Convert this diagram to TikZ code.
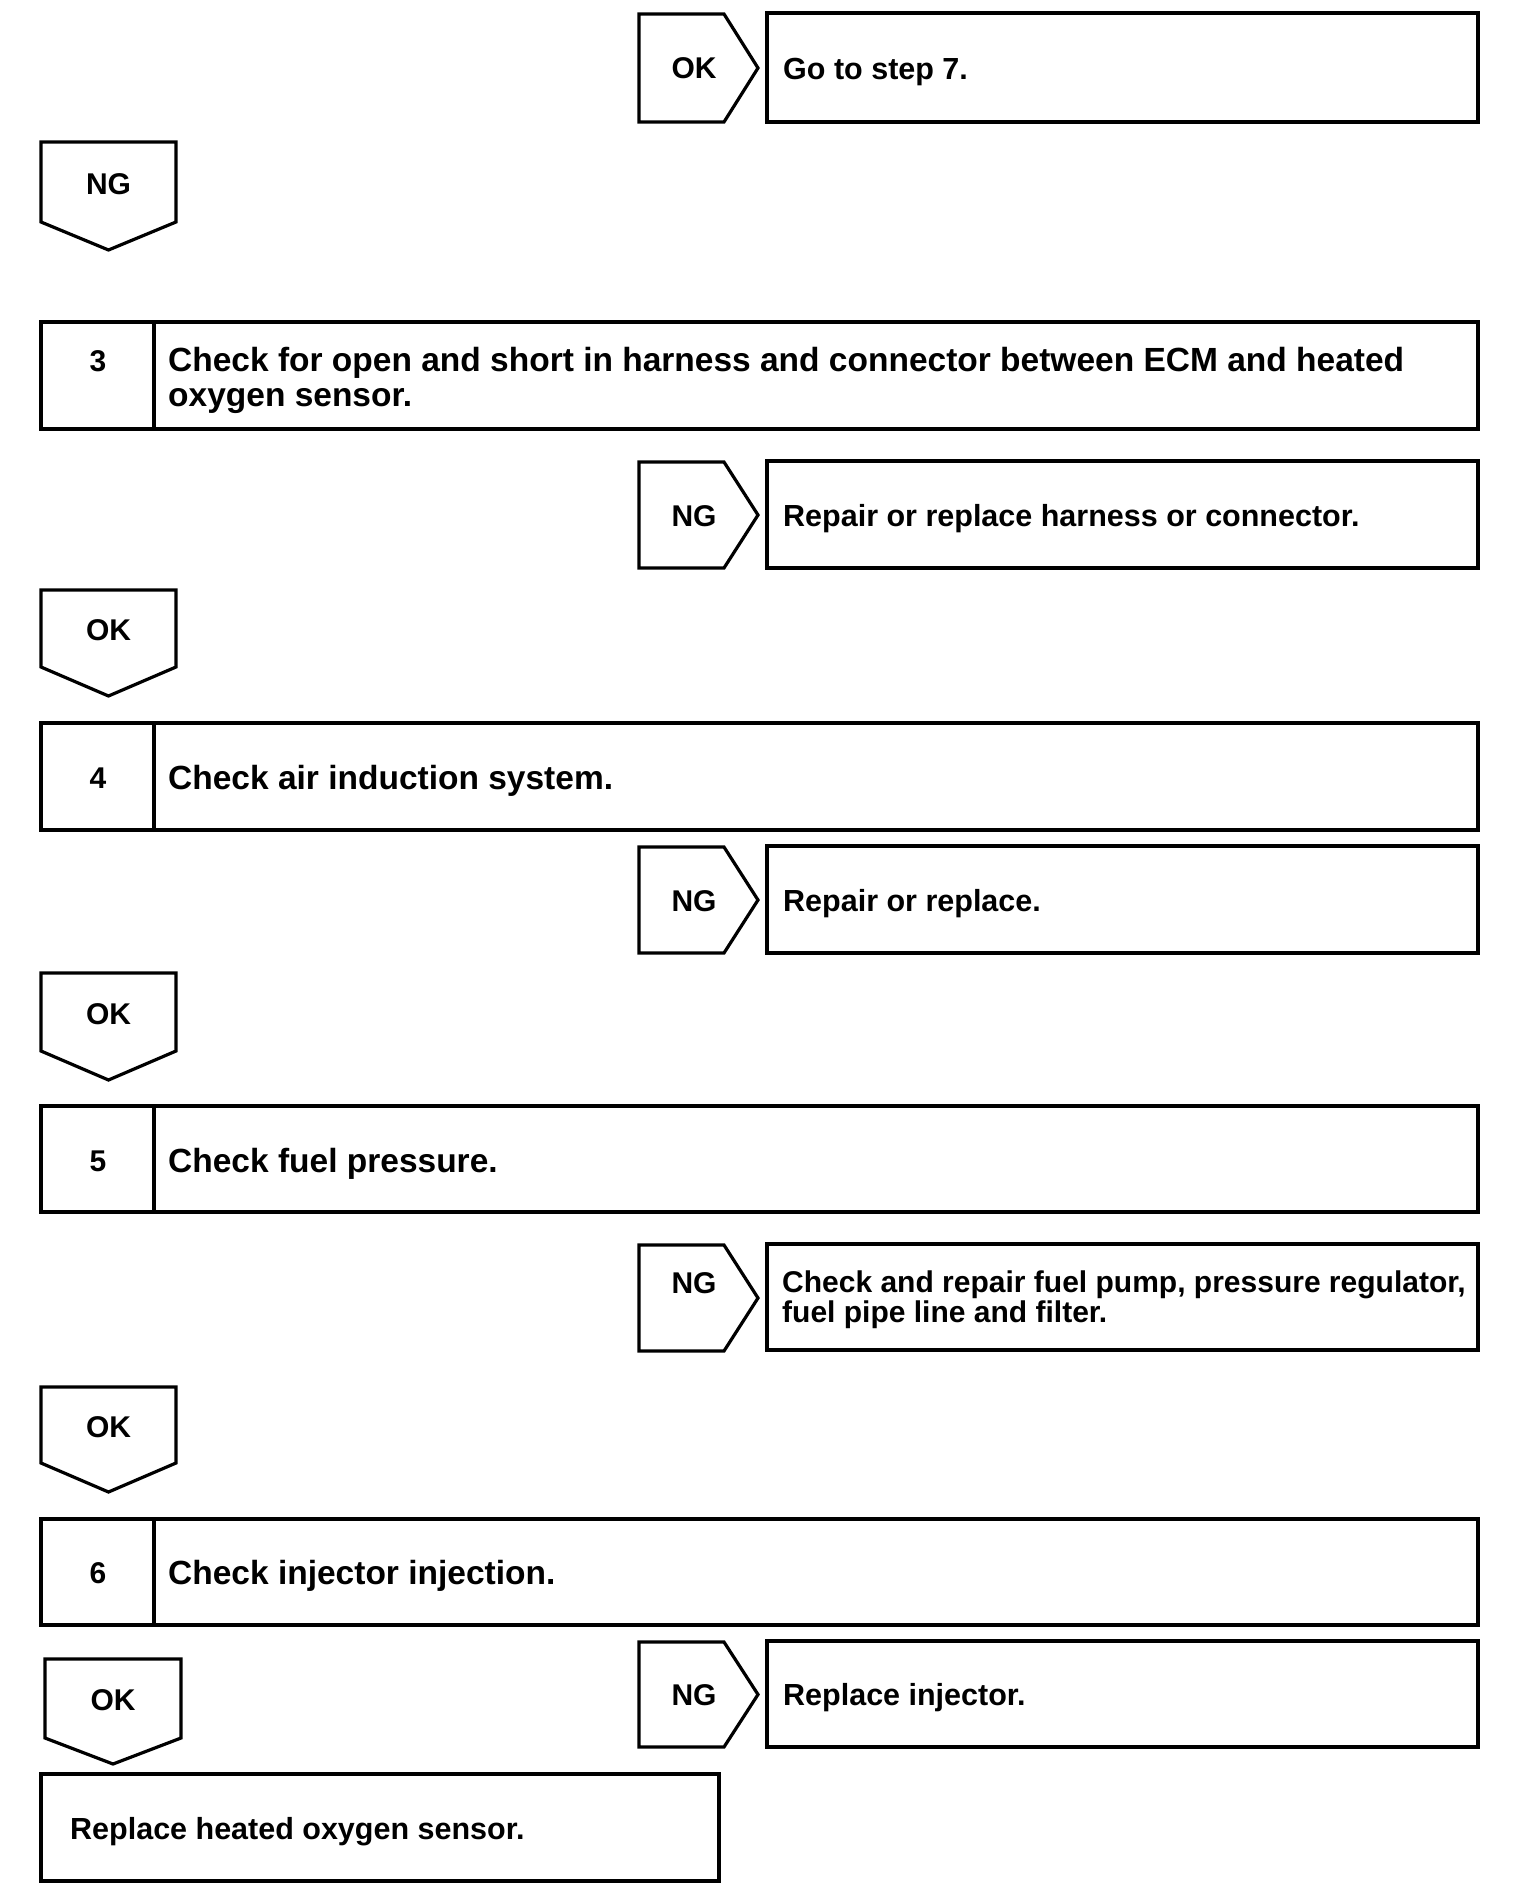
\documentclass[tikz,border=0pt]{standalone}
\usepackage{fontspec}
\setmainfont{Liberation Sans}
\tikzset{
  shp/.style={draw=black, line width=3.2pt, line join=miter},
  lbl/.style={font=\fontsize{30}{32}\selectfont\bfseries, inner sep=0pt},
  maintxt/.style={font=\fontsize{33.5}{35}\selectfont\bfseries, inner sep=0pt, anchor=west, align=left},
  sidetxt/.style={font=\fontsize{30.5}{30}\selectfont\bfseries, inner sep=0pt, anchor=west, align=left},
}
% side chevron: name, ytop, ybottom, label, label y
\newcommand{\rchev}[5]{%
  \draw[shp] (639,#2) -- (724,#2) -- (758,{(#2+#3)/2}) -- (724,#3) -- (639,#3) -- cycle;
  \node[lbl] (#1) at (694,#5) {#4};
}
% down chevron: name, xleft, xright, ytop, yside, ytip, label
\newcommand{\dchev}[7]{%
  \draw[shp] (#2,#4) -- (#3,#4) -- (#3,#5) -- ({(#2+#3)/2},#6) -- (#2,#5) -- cycle;
  \node[lbl] (#1) at ({(#2+#3)/2},{#4+(#5-#4)*0.5+2}) {#7};
}
% step box: name, ytop, ybottom, number, number y
\newcommand{\stepbox}[5]{%
  \draw[shp] (41,#2) rectangle (1478,#3);
  \draw[shp] (154,#2) -- (154,#3);
  \node[lbl] (#1) at (98,#5) {#4};
}
\begin{document}
\begin{tikzpicture}[x=1pt,y=-1pt]
\useasboundingbox (0,0) rectangle (1520,1892);
% top OK -> Go to step 7
\rchev{okA}{14}{122}{OK}{68}
\draw[shp] (767,13) rectangle (1478,122);
\node[sidetxt] (goA) at (783,72) {Go to step 7.};
% NG down
\dchev{ngA}{41}{176}{142}{222}{250}{NG}
% step 3
\stepbox{n3}{322}{429}{3}{361}
\node[maintxt] (t3) at (168,380) {Check for open and short in harness and connector between ECM and heated\\oxygen sensor.};
\rchev{ng3}{462}{568}{NG}{516}
\draw[shp] (767,461) rectangle (1478,568);
\node[sidetxt] (r3) at (783,519) {Repair or replace harness or connector.};
\dchev{ok3}{41}{176}{590}{667}{696}{OK}
% step 4
\stepbox{n4}{723}{830}{4}{778}
\node[maintxt] (t4) at (168,781) {Check air induction system.};
\rchev{ng4}{847}{953}{NG}{901}
\draw[shp] (767,846) rectangle (1478,953);
\node[sidetxt] (r4) at (783,904) {Repair or replace.};
\dchev{ok4}{41}{176}{973}{1051}{1080}{OK}
% step 5
\stepbox{n5}{1106}{1212}{5}{1161}
\node[maintxt] (t5) at (168,1164) {Check fuel pressure.};
\rchev{ng5}{1245}{1351}{NG}{1283}
\draw[shp] (767,1244) rectangle (1478,1350);
\node[sidetxt, font=\fontsize{30}{30}\selectfont\bfseries] (r5) at (782,1300) {Check and repair fuel pump, pressure regulator,\\fuel pipe line and filter.};
\dchev{ok5}{41}{176}{1387}{1463}{1492}{OK}
% step 6
\stepbox{n6}{1519}{1625}{6}{1573}
\node[maintxt] (t6) at (168,1576) {Check injector injection.};
\rchev{ng6}{1642}{1747}{NG}{1695}
\draw[shp] (767,1641) rectangle (1478,1747);
\node[sidetxt] (r6) at (783,1698) {Replace injector.};
\dchev{ok6}{45}{181}{1659}{1738}{1764}{OK}
% final
\draw[shp] (41,1774) rectangle (719,1881);
\node[sidetxt] (fin) at (70,1832) {Replace heated oxygen sensor.};
\end{tikzpicture}
\end{document}
